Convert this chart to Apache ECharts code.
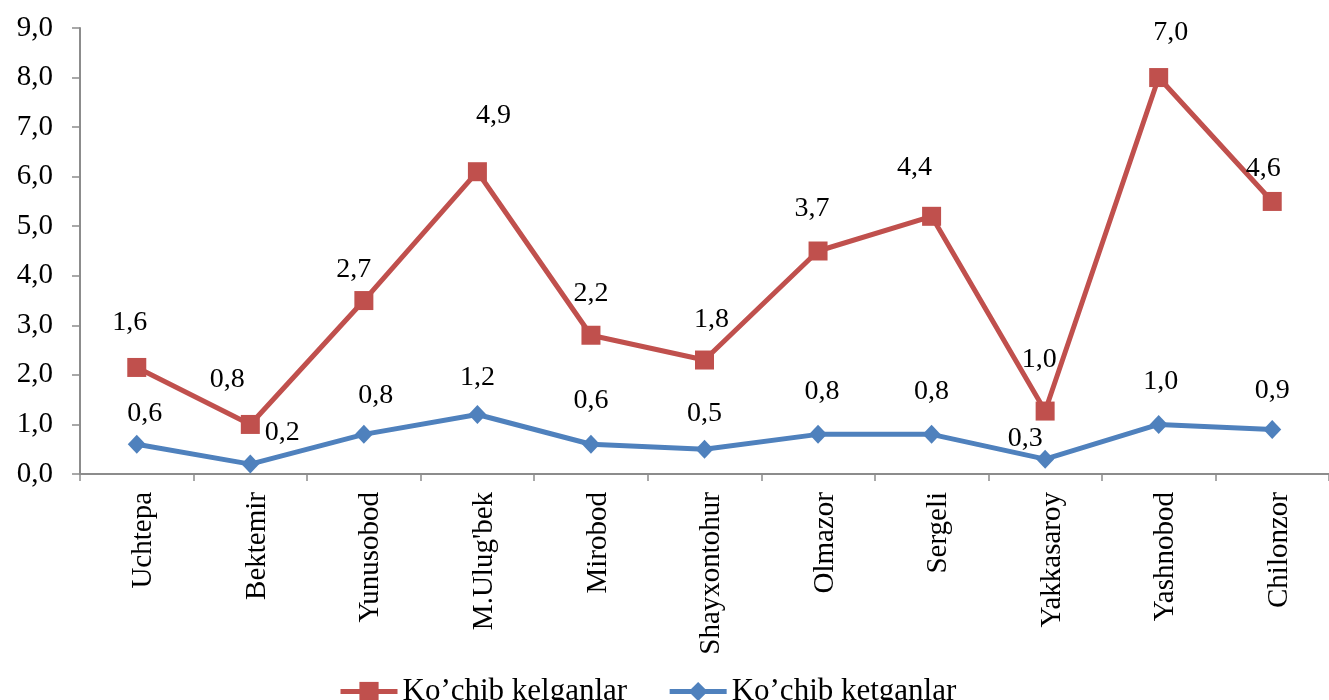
<!DOCTYPE html>
<html>
<head>
<meta charset="utf-8">
<script src="https://cdn.jsdelivr.net/npm/echarts@6/dist/echarts.min.js"></script>
<style>
html,body{margin:0;padding:0;background:#fff;}
#chart{width:1329px;height:700px;}
</style>
</head>
<body>
<div id="chart"></div>
<script>
const categories = ['Uchtepa','Bektemir','Yunusobod',"M.Ulug'bek",'Mirobod','Shayxontohur','Olmazor','Sergeli','Yakkasaroy','Yashnobod','Chilonzor'];
const kelganlarValues = [2.15, 1.0, 3.5, 6.1, 2.8, 2.3, 4.5, 5.2, 1.27, 8.0, 5.5];
const kelganlarLabels = [1.6, 0.8, 2.7, 4.9, 2.2, 1.8, 3.7, 4.4, 1.0, 7.0, 4.6];
const ketganlarValues = [0.6, 0.2, 0.8, 1.2, 0.6, 0.5, 0.8, 0.8, 0.3, 1.0, 0.9];
const ketganlarLabels = [0.6, 0.2, 0.8, 1.2, 0.6, 0.5, 0.8, 0.8, 0.3, 1.0, 0.9];
const yTicks = [0,1,2,3,4,5,6,7,8,9];

// label placement nudges (styling only)
const kelganlarNudge = [[-7,-3],[-23,-3],[-10,11],[16,-15],[0,0],[7,1],[-6,-1],[-17,-7],[-6,-10],[12,-3],[-9,9]];
const ketganlarNudge = [[8,11],[32,10],[12,3],[0,5],[0,-2],[0,6],[4,-1],[0,-1],[-20,21],[2,-1],[0,3]];

const FONT = '"Liberation Serif", "Times New Roman", serif';
const fmt = v => v.toFixed(1).replace('.', ',');

function buildData(values, labels, nudges) {
  return values.map((v, i) => ({
    value: v,
    label: { formatter: fmt(labels[i]), offset: nudges[i] }
  }));
}

const chart = echarts.init(document.getElementById('chart'), null, {renderer: 'canvas'});
const labelStyle = { show: true, position: 'top', distance: 18, color: '#000', fontFamily: FONT, fontSize: 28 };

chart.setOption({
  backgroundColor: '#fff',
  animation: false,
  grid: { left: 80, top: 28, width: 1254, height: 446, containLabel: false },
  legend: {
    left: 333, top: 671,
    itemWidth: 57, itemHeight: 24, itemGap: 40,
    lineStyle: { width: 5 },
    textStyle: { fontFamily: FONT, fontSize: 31, color: '#000' },
    data: ['Ko’chib kelganlar', 'Ko’chib ketganlar']
  },
  xAxis: {
    type: 'category',
    data: categories,
    boundaryGap: true,
    axisLine: { show: true, lineStyle: { color: '#8c8c8c', width: 2 } },
    axisTick: { show: true, length: 7, alignWithLabel: false, interval: 0, lineStyle: { color: '#8c8c8c', width: 1.5 } },
    axisLabel: { interval: 0, rotate: 90, margin: 18, color: '#000', fontFamily: FONT, fontSize: 29,
      verticalAlign: 'top', lineHeight: 14 },
    splitLine: { show: false }
  },
  yAxis: {
    type: 'value',
    min: 0, max: 9, interval: 1,
    axisLine: { show: true, lineStyle: { color: '#8c8c8c', width: 2 } },
    axisTick: { show: true, length: 8, lineStyle: { color: '#8c8c8c', width: 1.5 } },
    axisLabel: { margin: 27, color: '#000', fontFamily: FONT, fontSize: 29,
      formatter: v => yTicks.indexOf(v) >= 0 ? fmt(v) : '' },
    splitLine: { show: false }
  },
  series: [
    {
      name: 'Ko’chib kelganlar',
      type: 'line',
      data: buildData(kelganlarValues, kelganlarLabels, kelganlarNudge),
      symbol: 'rect', symbolSize: 19,
      lineStyle: { color: '#C0504D', width: 5 },
      itemStyle: { color: '#C0504D' },
      label: labelStyle,
      z: 3
    },
    {
      name: 'Ko’chib ketganlar',
      type: 'line',
      data: buildData(ketganlarValues, ketganlarLabels, ketganlarNudge),
      symbol: 'diamond', symbolSize: [18, 19],
      lineStyle: { color: '#4F81BD', width: 5 },
      itemStyle: { color: '#4F81BD' },
      label: labelStyle,
      z: 4
    }
  ]
});
</script>
</body>
</html>
